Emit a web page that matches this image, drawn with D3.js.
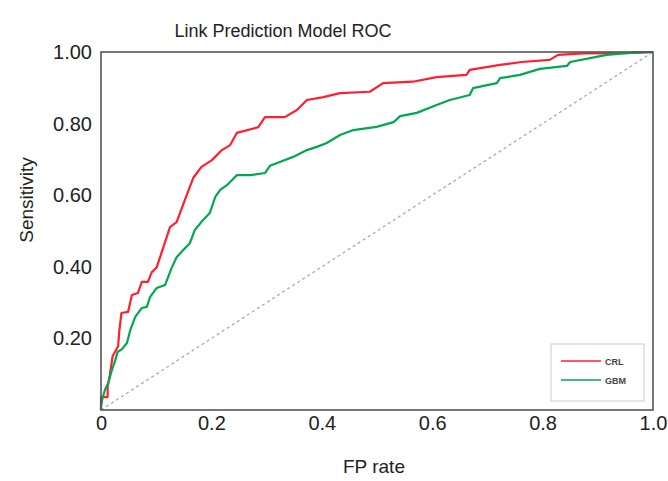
<!DOCTYPE html>
<html lang="en">
<head>
<meta charset="utf-8">
<title>Link Prediction Model ROC</title>
<script src="https://d3js.org/d3.v7.min.js"></script>
<style>
  body { margin: 0; background: #fff; font-family: "Liberation Sans", Arial, sans-serif; }
</style>
</head>
<body>
<div id="vis"></div>
<script>
  // ROC points: [FP rate, sensitivity]
  const crlPoints = [
    [0, 0], [0, 0.036], [0.012, 0.036], [0.012, 0.064], [0.016, 0.098], [0.021, 0.150],
    [0.031, 0.178], [0.033, 0.218], [0.037, 0.271], [0.049, 0.274], [0.056, 0.321],
    [0.067, 0.327], [0.074, 0.358], [0.085, 0.358], [0.092, 0.385], [0.101, 0.399],
    [0.110, 0.441], [0.125, 0.511], [0.137, 0.525], [0.152, 0.587], [0.167, 0.648],
    [0.182, 0.679], [0.201, 0.698], [0.219, 0.726], [0.234, 0.740], [0.246, 0.774],
    [0.285, 0.790], [0.297, 0.818], [0.333, 0.818], [0.355, 0.838], [0.373, 0.866],
    [0.403, 0.874], [0.433, 0.885], [0.487, 0.889], [0.511, 0.913], [0.565, 0.917],
    [0.608, 0.930], [0.662, 0.936], [0.668, 0.950], [0.723, 0.964], [0.762, 0.972],
    [0.813, 0.978], [0.828, 0.992], [0.874, 0.996], [0.949, 0.997], [1, 1]
  ];
  const gbmPoints = [
    [0, 0], [0, 0.008], [0.002, 0.028], [0.007, 0.056], [0.013, 0.075], [0.019, 0.108],
    [0.026, 0.140], [0.030, 0.162], [0.038, 0.170], [0.047, 0.187], [0.053, 0.223],
    [0.062, 0.260], [0.074, 0.285], [0.083, 0.288], [0.089, 0.316], [0.101, 0.341],
    [0.116, 0.349], [0.128, 0.397], [0.137, 0.427], [0.149, 0.447], [0.161, 0.466],
    [0.170, 0.503], [0.185, 0.531], [0.197, 0.550], [0.207, 0.595], [0.216, 0.615],
    [0.228, 0.628], [0.246, 0.656], [0.270, 0.656], [0.297, 0.662], [0.306, 0.682],
    [0.324, 0.693], [0.348, 0.707], [0.373, 0.726], [0.391, 0.735], [0.409, 0.746],
    [0.433, 0.768], [0.457, 0.782], [0.499, 0.791], [0.530, 0.804], [0.542, 0.821],
    [0.572, 0.830], [0.608, 0.852], [0.632, 0.866], [0.668, 0.880], [0.674, 0.899],
    [0.717, 0.913], [0.723, 0.927], [0.759, 0.936], [0.795, 0.953], [0.844, 0.961],
    [0.850, 0.972], [0.886, 0.983], [0.916, 0.992], [0.952, 0.997], [1, 1]
  ];
  const seriesNames = ["CRL", "GBM"];
  const seriesColours = ["#ff1f2f", "#00a850"];
  const xTicks = [0, 0.2, 0.4, 0.6, 0.8, 1.0];
  const xTickLabels = ["0", "0.2", "0.4", "0.6", "0.8", "1.0"];
  const yTicks = [0.2, 0.4, 0.6, 0.8, 1.0];
  const yTickLabels = ["0.20", "0.40", "0.60", "0.80", "1.00"];

  const width = 668;
  const height = 481;
  const margin = { top: 52, right: 15, bottom: 71, left: 101 };
  const plotW = width - margin.left - margin.right;
  const plotH = height - margin.top - margin.bottom;

  const svg = d3.select('#vis')
    .append('svg')
    .attr('width', width)
    .attr('height', height);

  const x = d3.scaleLinear().domain([0, 1]).range([margin.left, margin.left + plotW]);
  const y = d3.scaleLinear().domain([0, 1]).range([margin.top + plotH, margin.top]);

  // title
  svg.append('text')
    .attr('x', 283)
    .attr('y', 37)
    .attr('text-anchor', 'middle')
    .style('font-size', '18px')
    .style('fill', '#222')
    .text('Link Prediction Model ROC');

  // chance diagonal
  svg.append('line')
    .attr('x1', x(0)).attr('y1', y(0))
    .attr('x2', x(1)).attr('y2', y(1))
    .attr('stroke', '#aaa')
    .attr('stroke-width', 1.3)
    .attr('stroke-dasharray', '3,3');

  // curves
  const line = d3.line().x(d => x(d[0])).y(d => y(d[1]));
  [crlPoints, gbmPoints].forEach((pts, i) => {
    svg.append('path')
      .datum(pts)
      .attr('fill', 'none')
      .attr('stroke', seriesColours[i])
      .attr('stroke-width', 2.2)
      .attr('stroke-linejoin', 'round')
      .attr('d', line);
  });

  // frame
  svg.append('rect')
    .attr('x', x(0)).attr('y', y(1))
    .attr('width', plotW).attr('height', plotH)
    .attr('fill', 'none')
    .attr('stroke', '#555')
    .attr('stroke-width', 1.6);

  // axes, labels only
  const xAxis = svg.append('g')
    .attr('transform', `translate(0,${y(0)})`)
    .call(d3.axisBottom(x).tickValues(xTicks).tickSize(0).tickPadding(6)
      .tickFormat((d, i) => xTickLabels[i]));
  const yAxis = svg.append('g')
    .attr('transform', `translate(${x(0)},0)`)
    .call(d3.axisLeft(y).tickValues(yTicks).tickSize(0).tickPadding(9)
      .tickFormat((d, i) => yTickLabels[i]));
  [xAxis, yAxis].forEach(g => {
    g.select('.domain').remove();
    g.selectAll('text')
      .style('font-family', '"Liberation Sans", Arial, sans-serif')
      .style('font-size', '20px')
      .style('fill', '#222');
  });

  // axis titles
  svg.append('text')
    .attr('x', 374)
    .attr('y', 473)
    .attr('text-anchor', 'middle')
    .style('font-size', '19px')
    .style('fill', '#222')
    .text('FP rate');

  svg.append('text')
    .attr('transform', 'translate(33,200) rotate(-90)')
    .attr('text-anchor', 'middle')
    .style('font-size', '19px')
    .style('fill', '#222')
    .text('Sensitivity');

  // legend
  const legend = svg.append('g').attr('transform', 'translate(551,344)');
  legend.append('rect')
    .attr('width', 93).attr('height', 57)
    .attr('fill', '#fff')
    .attr('stroke', '#ccc');
  seriesNames.forEach((name, i) => {
    const ly = 17 + i * 19;
    legend.append('line')
      .attr('x1', 10).attr('x2', 50)
      .attr('y1', ly).attr('y2', ly)
      .attr('stroke', seriesColours[i])
      .attr('stroke-width', 1.5);
    legend.append('text')
      .attr('x', 54).attr('y', ly + 3.5)
      .style('font-size', '9px')
      .style('font-weight', 'bold')
      .style('fill', '#444')
      .text(name);
  });
</script>
</body>
</html>
